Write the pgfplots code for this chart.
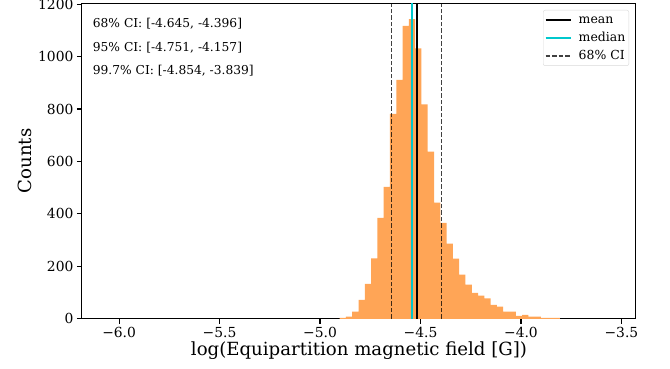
\documentclass[border=0pt]{standalone}
\usepackage{fontspec}
\setmainfont{DejaVu Serif}
\usepackage{pgfplots}
\pgfplotsset{compat=1.18}
\definecolor{barorange}{RGB}{255,165,86}
\definecolor{medcyan}{RGB}{0,200,205}
\newcommand\tickfont{\fontsize{13.9}{15}\selectfont}
\newcommand\legfont{\fontsize{12.5}{14}\selectfont}
\newcommand\annfont{\fontsize{12.3}{14}\selectfont}
\newcommand\labfont{\fontsize{18.2}{20}\selectfont}
\begin{document}
\begin{tikzpicture}[x=1bp,y=1bp]
\path[use as bounding box] (0,0) rectangle (670,368);
\begin{axis}[
  at={(81.7bp,49.2bp)}, anchor=south west,
  scale only axis, width=553.6bp, height=315.5bp,
  xmin=-6.186, xmax=-3.431, ymin=0, ymax=1203,
  axis line style={line width=1.1bp},
  tick style={line width=1.1bp, black},
  tick align=outside, tick pos=left, major tick length=4.8bp,
  xtick={-6,-5.5,-5,-4.5,-4,-3.5},
  xticklabels={−6.0,−5.5,−5.0,−4.5,−4.0,−3.5},
  ytick={0,200,400,600,800,1000,1200},
  /pgf/number format/assume math mode=true,
  /pgf/number format/1000 sep={},
  every tick label/.append style={font=\tickfont},
  legend style={at={(1,1)}, anchor=north east, xshift=-6.3bp, yshift=-6.7bp,
    draw=black!15, rounded corners=2bp, fill=white,
    font=\legfont, row sep=1.5bp, column sep=5bp, inner sep=1.5bp,
    nodes={font=\legfont, inner sep=2bp, text height=9.5bp, text depth=3bp},
    cells={anchor=west}},
  legend image code/.code={\draw[#1] (0bp,0bp) -- (25bp,0bp);},
]
\addplot[ybar interval, fill=barorange, draw=none, forget plot] coordinates {
(-4.90242,4) (-4.87111,8) (-4.83979,27) (-4.80848,72) (-4.77717,133)
(-4.74585,230) (-4.71454,385) (-4.68323,503) (-4.65192,781) (-4.62060,911)
(-4.58929,1117) (-4.55798,1143) (-4.52666,1031) (-4.49535,818) (-4.46404,637)
(-4.43272,443) (-4.40141,366) (-4.37010,287) (-4.33879,229) (-4.30747,168)
(-4.27616,130) (-4.24485,99) (-4.21353,88) (-4.18222,78) (-4.15091,53)
(-4.11959,46) (-4.08828,27) (-4.05697,27) (-4.02566,11) (-3.99434,15)
(-3.96303,8) (-3.93172,8) (-3.90040,4) (-3.86909,4) (-3.83778,4)
(-3.80646,0)
};
\addplot[black, line width=2bp] coordinates {(-4.517,0) (-4.517,1203)};
\addlegendentry{mean}
\addplot[medcyan, line width=2bp] coordinates {(-4.540,0) (-4.540,1203)};
\addlegendentry{median}
\addplot[black, opacity=0.75, line width=1.5bp, dash pattern=on 4.5bp off 2bp] coordinates {(-4.645,0) (-4.645,1203)};
\addlegendentry{68\% CI}
\addplot[black, opacity=0.75, line width=1.5bp, dash pattern=on 4.5bp off 2bp, forget plot] coordinates {(-4.396,0) (-4.396,1203)};
\end{axis}
\node[anchor=base west, inner sep=0, font=\annfont] at (92.7,340.2) {68\% CI: [-4.645, -4.396]};
\node[anchor=base west, inner sep=0, font=\annfont] at (92.7,316.8) {95\% CI: [-4.751, -4.157]};
\node[anchor=base west, inner sep=0, font=\annfont] at (92.7,293.5) {99.7\% CI: [-4.854, -3.839]};
\node[font=\labfont] at (359,17) {log(Equipartition magnetic field [G])};
\node[rotate=90, font=\labfont] at (25,207) {Counts};
\end{tikzpicture}
\end{document}
